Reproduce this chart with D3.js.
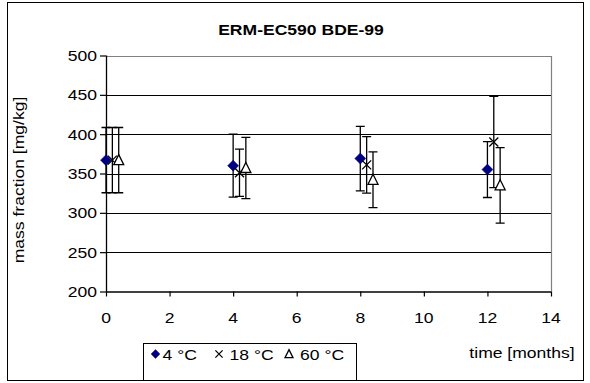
<!DOCTYPE html>
<html>
<head>
<meta charset="utf-8">
<script src="https://cdn.jsdelivr.net/npm/d3@7"></script>
<style>
  body { margin: 0; background: #fff; }
  text { font-family: "Liberation Sans", Arial, sans-serif; fill: #000; }
</style>
</head>
<body>
<svg id="chart" width="590" height="383"></svg>
<script>
// time points (months)
const months = [0, 4, 8, 12];
// series: mean and half-width of the error bar
const series = [
  { name: "4 °C",  shift: 0,   mean: [367, 360, 369, 355], err: [41.5, 40, 41, 35.5], mark: "diamond" },
  { name: "18 °C", shift: 0.2, mean: [367, 351, 361, 390], err: [41.5, 30, 36, 58],   mark: "cross" },
  { name: "60 °C", shift: 0.4, mean: [367, 357, 342, 335], err: [41.5, 39, 35.5, 48], mark: "triangle" }
];
const xTicks = [0, 2, 4, 6, 8, 10, 12, 14];
const yTicks = [200, 250, 300, 350, 400, 450, 500];

const svg = d3.select("#chart");
const pLeft = 106, pRight = 551, pTop = 55.5, pBottom = 291.5;
const sx = 1.17; // the original text looks stretched sideways

const x = d3.scaleLinear().domain([0, 14]).range([pLeft, pRight]);
const y = d3.scaleLinear().domain([200, 500]).range([pBottom, pTop]);

function label(g, txt, px, py, opts) {
  opts = opts || {};
  return g.append("text")
    .attr("transform", `translate(${px},${py})${opts.rotate ? " rotate(-90)" : ""} scale(${sx},1)`)
    .attr("text-anchor", opts.anchor || "middle")
    .style("font-size", (opts.size || 15) + "px")
    .style("font-weight", opts.bold ? "bold" : "normal")
    .text(txt);
}

// gridlines
svg.append("g").selectAll("line")
  .data(yTicks.filter(d => d > 200 && d < 500))
  .enter().append("line")
  .attr("x1", pLeft).attr("x2", pRight)
  .attr("y1", d => Math.round(y(d)) + 0.5).attr("y2", d => Math.round(y(d)) + 0.5)
  .attr("stroke", "#000").attr("stroke-width", 1);

// plot border (top / right)
svg.append("path")
  .attr("d", `M${pLeft},${Math.round(pTop) + 0.5}H${Math.round(pRight) + 0.5}V${pBottom}`)
  .attr("fill", "none").attr("stroke", "#808080").attr("stroke-width", 1.2);

// axes
const yAxis = svg.append("g").attr("transform", `translate(${pLeft},0)`)
  .call(d3.axisLeft(y).tickValues(yTicks).tickSize(6).tickFormat(""));
const xAxis = svg.append("g").attr("transform", `translate(0,${pBottom})`)
  .call(d3.axisBottom(x).tickValues(xTicks).tickSize(5).tickFormat(""));
[yAxis, xAxis].forEach(a => {
  a.select(".domain").attr("stroke", "#000").attr("stroke-width", 1.3);
  a.selectAll(".tick line").attr("stroke", "#000").attr("stroke-width", 1.2);
});
xAxis.select(".domain").attr("d", `M${pLeft},0.5H${pRight}`);
yAxis.select(".domain").attr("d", `M0.5,${pTop}V${pBottom}`);

const labels = svg.append("g");
yTicks.forEach(t => label(labels, t, 97, y(t) + 5.5, { anchor: "end" }));
xTicks.forEach(t => label(labels, t, x(t), 323, {}));

// titles
label(labels, "ERM-EC590 BDE-99", 301, 35, { bold: true, size: 15 });
label(labels, "mass fraction [mg/kg]", 24, 180, { rotate: true });
label(labels, "time [months]", 522, 358, {});

// error bars and markers
const cap = 4.5;
series.forEach(s => {
  const pts = months.map((m, i) => ({ t: m + s.shift, v: s.mean[i], e: s.err[i] }));
  const g = svg.append("g");
  pts.forEach(p => {
    const cx = x(p.t);
    g.append("path")
      .attr("d", `M${cx},${y(p.v + p.e)}V${y(p.v - p.e)}M${cx - cap},${y(p.v + p.e)}H${cx + cap}M${cx - cap},${y(p.v - p.e)}H${cx + cap}`)
      .attr("stroke", "#000").attr("stroke-width", 1.3).attr("fill", "none");
  });
  pts.forEach(p => drawMark(g, s.mark, x(p.t), y(p.v), 1));
});

function drawMark(g, kind, cx, cy, k) {
  if (kind === "diamond") {
    const r = 5.5 * k;
    g.append("path").attr("d", `M${cx},${cy - r}L${cx + r},${cy}L${cx},${cy + r}L${cx - r},${cy}Z`)
      .attr("fill", "#000080").attr("stroke", "#000080").attr("stroke-width", 0.5);
  } else if (kind === "cross") {
    const r = 4.5 * k;
    g.append("path").attr("d", `M${cx - r},${cy - r}L${cx + r},${cy + r}M${cx - r},${cy + r}L${cx + r},${cy - r}`)
      .attr("stroke", "#000").attr("stroke-width", 1.3).attr("fill", "none");
  } else {
    const r = 5 * k;
    g.append("path").attr("d", `M${cx},${cy - r * 1.1}L${cx + r},${cy + r * 0.9}L${cx - r},${cy + r * 0.9}Z`)
      .attr("fill", "#fff").attr("stroke", "#000").attr("stroke-width", 1.3);
  }
}

// legend
const lg = svg.append("g");
lg.append("rect").attr("x", 143.5).attr("y", 343.5).attr("width", 213).attr("height", 37)
  .attr("fill", "#fff").attr("stroke", "#000").attr("stroke-width", 1);
const legX = [155.5, 219, 289];
const legGap = [7, 10.5, 11];
series.forEach((s, i) => {
  drawMark(lg, s.mark, legX[i], 354, 0.8);
  label(lg, s.name, legX[i] + legGap[i], 360, { anchor: "start" });
});

// outer frame
svg.append("rect")
  .attr("x", 7.5).attr("y", 2.5).attr("width", 576).attr("height", 378)
  .attr("fill", "none").attr("stroke", "#000").attr("stroke-width", 1);
</script>
</body>
</html>
